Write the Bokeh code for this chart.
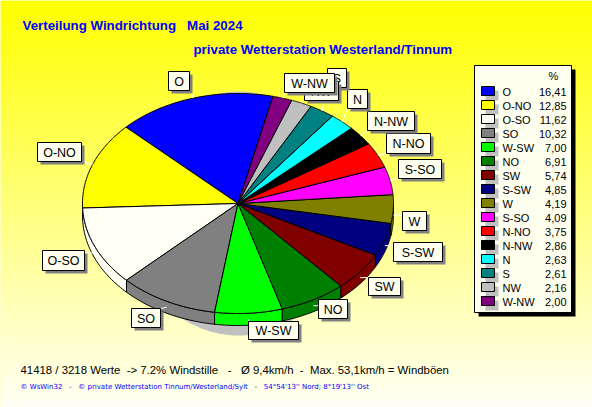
import numpy as np
from bokeh.models import Range1d
from bokeh.plotting import figure
from bokeh.embed import file_html
from bokeh.resources import INLINE
from bokeh.core.properties import value

# ---- data ----
names = ["O","O-NO","O-SO","SO","W-SW","NO","SW","S-SW","W","S-SO","N-NO","N-NW","N","S","NW","W-NW"]
values = [16.41,12.85,11.62,10.32,7.00,6.91,5.74,4.85,4.19,4.09,3.75,2.86,2.63,2.61,2.16,2.00]
value_labels = ["16,41","12,85","11,62","10,32","7,00","6,91","5,74","4,85","4,19","4,09","3,75","2,86","2,63","2,61","2,16","2,00"]
colors = ["#0000ff","#ffff00","#fffff5","#808080","#00ff00","#008000","#800000","#000080","#808000","#ff00ff","#ff0000","#000000","#00ffff","#008080","#c0c0c0","#800080"]
# label boxes: left, right, top, bottom in page pixels
label_boxes = [(168,189,71,90),(37,81,142,161),(42,84,250,270),(131,160,308,327),(248,298,321,339),(318,347,299,318),
               (368,400,277,295),(393,442,242,261),(402,426,211,230),(398,441,159,178),(386,430,133,153),(367,414,111,130),
               (347,367,89,108),(327,346,68,87),(304,338,81,100),(284,334,73,92)]
NB = "\u00a0"
title1 = f"Verteilung Windrichtung{NB}{NB}{NB}Mai 2024"
title2 = "private Wetterstation Westerland/Tinnum"
foot1 = f"41418 / 3218 Werte{NB}{NB}-> 7.2% Windstille{NB}{NB}{NB}-{NB}{NB}{NB}\u00d8 9,4km/h{NB}{NB}-{NB}{NB}Max. 53,1km/h = Windb\u00f6en"
foot2 = f"\u00a9 WsWin32{NB}{NB}{NB}-{NB}{NB}{NB}\u00a9 private Wetterstation Tinnum/Westerland/Sylt{NB}{NB}{NB}-{NB}{NB}{NB}54\u00b054'13'' Nord; 8\u00b019'13'' Ost"

# ---- geometry ----
CX, CY, RX, RY, DEPTH = 237.5, 203.0, 155.5, 110.0, 12.0
START = 77.0
CREAM = "#fffff0"

p = figure(width=592, height=407, output_backend="svg", toolbar_location=None,
           x_range=Range1d(0, 592), y_range=Range1d(407, 0), min_border=0,
           outline_line_color=None)
p.xaxis.visible = False
p.yaxis.visible = False
p.grid.visible = False
p.background_fill_color = "#ffffa0"
p.border_fill_color = None

# background gradient
def lerp_rows(n=204):
    arr = np.zeros((n, 1), dtype=np.uint32)
    view = arr.view(dtype=np.uint8).reshape((n, 1, 4))
    for i in range(n):
        t = i / (n - 1)
        view[i, 0] = (255, 255, int(round(t * 245)), 255)
    return arr
p.image_rgba(image=[lerp_rows()], x=[0], y=[0], dw=[592], dh=[407])

def ell(a, dy=0.0):
    r = np.radians(a)
    return CX + RX * np.cos(r), CY - RY * np.sin(r) + dy

total = sum(values)
edges = [START]
for v in values:
    edges.append(edges[-1] + v / total * 360.0)

# shadow behind the pie
th = np.linspace(0, 360, 181)
p.patch(238 + 110 * np.cos(np.radians(th)), 213 - 122 * np.sin(np.radians(th)),
        fill_color="#c0c0c0", line_color=None)

# side wall
for i in range(len(values)):
    a0, a1 = max(edges[i], 180), min(edges[i + 1], 360)
    if a1 > a0:
        aa = np.linspace(a0, a1, 40)
        xs, ys = ell(aa)
        xb, yb = ell(aa[::-1], DEPTH)
        p.patch(np.r_[xs, xb], np.r_[ys, yb], fill_color=colors[i], line_color="black", line_width=1)

# top faces
for i in range(len(values)):
    aa = np.linspace(edges[i], edges[i + 1], 60)
    xs, ys = ell(aa)
    p.patch(np.r_[CX, xs], np.r_[CY, ys], fill_color=colors[i], line_color="black", line_width=1)

# labels
for i, n in enumerate(names):
    l, r, t, b = label_boxes[i]
    mid = (edges[i] + edges[i + 1]) / 2
    ex, ey = ell(mid)
    if 180 < (mid % 360) < 360:
        ey += DEPTH / 2
    bx = min(max(ex, l), r)
    by = min(max(ey, t), b)
    p.line([ex, bx], [ey, by], line_color="white", line_width=1)
for i, n in enumerate(names):
    l, r, t, b = label_boxes[i]
    p.quad(left=l + 3, right=r + 3, top=t + 3, bottom=b + 3, fill_color="#808080", line_color=None)
    p.quad(left=l, right=r, top=t, bottom=b, fill_color=CREAM, line_color="black", line_width=1)
    p.text(x=[(l + r) / 2], y=[(t + b) / 2 + 0.5], text=[n], text_align="center", text_baseline="middle",
           text_font=value("Liberation Sans"), text_font_size="12.5px", text_color="black")

# legend panel
p.quad(left=478, right=575, top=69, bottom=316, fill_color="black", line_color=None)
p.quad(left=474, right=571, top=65, bottom=312, fill_color=CREAM, line_color="black", line_width=1)
p.text(x=[553], y=[75], text=["%"], text_align="center", text_baseline="middle",
       text_font=value("Liberation Sans"), text_font_size="11px", text_color="black")
for i, n in enumerate(names):
    y = 91 + 14 * i
    p.quad(left=485, right=498, top=y - 1, bottom=y + 9, fill_color="#c0c0c0", line_color=None)
    p.quad(left=481, right=494, top=y - 5, bottom=y + 5 - 1, fill_color=colors[i], line_color="black", line_width=1)
    p.text(x=[502], y=[y], text=[n], text_align="left", text_baseline="middle",
           text_font=value("Liberation Sans"), text_font_size="11px", text_color="black")
    p.text(x=[566], y=[y], text=[value_labels[i]], text_align="right", text_baseline="middle",
           text_font=value("Liberation Sans"), text_font_size="11px", text_color="black")

# titles and footers
p.text(x=[22], y=[25], text=[title1], text_baseline="middle", text_font=value("Liberation Sans"),
       text_font_style="bold", text_font_size="13.3px", text_color="#0000ff")
p.text(x=[193], y=[49], text=[title2], text_baseline="middle", text_font=value("Liberation Sans"),
       text_font_style="bold", text_font_size="13.3px", text_color="#0000ff")
p.text(x=[20], y=[369], text=[foot1], text_baseline="middle", text_font=value("Liberation Sans"),
       text_font_size="11.4px", text_color="black")
p.text(x=[20], y=[386], text=[foot2], text_baseline="middle", text_font=value("DejaVu Sans"),
       text_font_size="7px", text_color="#0000ff")

open("out.html", "w").write(file_html(p, INLINE))
